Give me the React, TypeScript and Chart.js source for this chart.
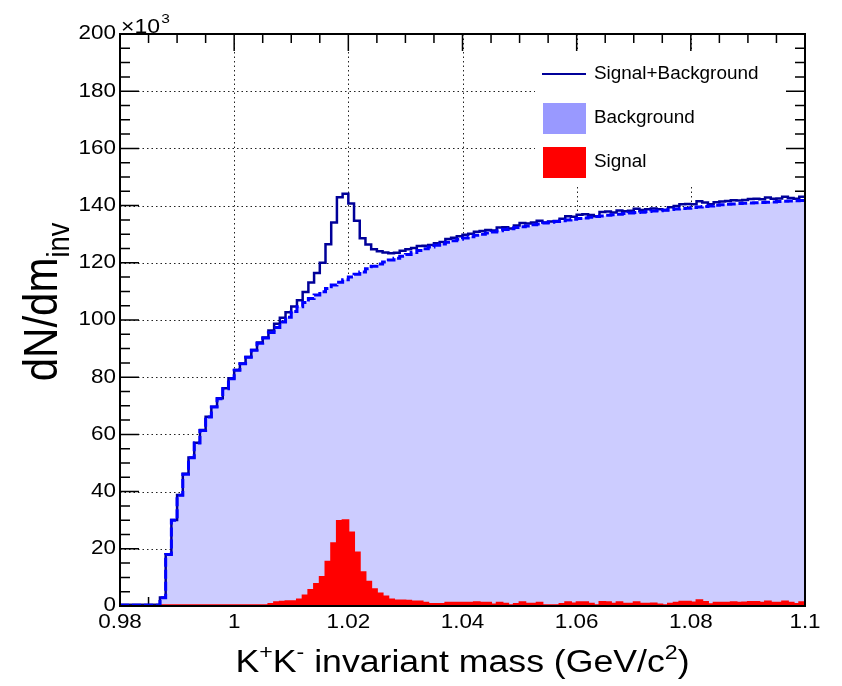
import React, { useEffect, useRef } from "react";
import { Chart, registerables } from "chart.js";

Chart.register(...registerables);

// ---- axis definition ----
const X_MIN = 0.98;
const X_MAX = 1.1;
const BIN_WIDTH = 0.001;
const Y_MIN = 0;
const Y_MAX = 200;
const X_MAJOR = 0.02;
const X_MINOR = 0.005;
const Y_MAJOR = 20;
const Y_MINOR = 5;

// ---- data (x10^3 counts per 1 MeV bin, 0.980 ... 1.100 GeV) ----
const BACKGROUND = [
  0.3, 0.3, 0.3, 0.3, 0.3, 0.3, 0.3, 2.9, 18.0, 30.0,
  38.7, 46.1, 51.8, 57.0, 61.4, 66.1, 69.6, 72.5, 76.0, 79.5,
  82.4, 84.7, 87.0, 89.4, 91.9, 93.7, 95.6, 97.4, 99.3, 101.0,
  103.0, 104.6, 106.1, 107.5, 108.7, 109.9, 111.0, 112.2, 113.2, 114.1,
  115.0, 116.0, 116.8, 117.9, 118.8, 119.6, 120.3, 121.0, 121.6, 122.3,
  122.9, 123.6, 124.3, 124.9, 125.5, 126.1, 126.6, 127.2, 127.7, 128.2,
  128.7, 129.1, 129.6, 130.0, 130.4, 130.8, 131.2, 131.6, 131.9, 132.3,
  132.6, 132.9, 133.3, 133.6, 133.9, 134.2, 134.4, 134.7, 135.0, 135.2,
  135.5, 135.7, 135.9, 136.2, 136.4, 136.6, 136.8, 137.0, 137.2, 137.4,
  137.6, 137.7, 137.9, 138.1, 138.2, 138.4, 138.6, 138.8, 139.0, 139.1,
  139.3, 139.5, 139.7, 139.9, 140.1, 140.3, 140.5, 140.6, 140.7, 140.8,
  140.9, 141.0, 141.1, 141.2, 141.3, 141.4, 141.5, 141.6, 141.7, 141.8,
];

const SIGNAL = [
  0.3, 0.3, 0.3, 0.3, 0.3, 0.3, 0.3, 0.3, 0.3, 0.3,
  0.3, 0.3, 0.3, 0.3, 0.3, 0.3, 0.3, 0.3, 0.3, 0.3,
  0.3, 0.3, 0.3, 0.3, 0.3, 0.3, 0.7, 1.3, 1.5, 1.7,
  1.7, 2.3, 3.7, 5.6, 7.7, 10.1, 15.5, 21.9, 29.7, 30.0,
  25.7, 18.7, 11.8, 8.5, 5.9, 4.4, 3.3, 2.3, 1.9, 1.9,
  1.8, 1.6, 1.6, 1.1, 0.7, 0.7, 0.7, 1.1, 1.1, 1.1,
  1.1, 1.1, 1.3, 1.1, 1.1, 0.5, 1.1, 0.8, 0.3, 0.7,
  1.3, 0.8, 0.8, 1.1, 0.3, 0.3, 0.3, 0.7, 1.3, 0.9,
  1.3, 1.3, 0.8, 0.3, 1.4, 1.3, 0.8, 1.3, 0.8, 0.8,
  1.3, 0.8, 0.8, 0.9, 0.5, 0.3, 0.8, 1.1, 1.5, 1.5,
  1.2, 2.0, 1.4, 0.6, 1.1, 1.1, 1.1, 1.3, 1.1, 1.2,
  1.4, 1.4, 1.1, 1.6, 1.1, 1.1, 1.6, 1.1, 0.7, 1.3,
];

const TOTAL = [
  0.4, 0.4, 0.4, 0.4, 0.4, 0.4, 0.4, 3.0, 18.1, 30.1,
  38.8, 46.2, 51.9, 57.1, 61.5, 66.2, 69.7, 72.6, 76.1, 79.6,
  82.5, 84.8, 87.1, 89.5, 92.1, 93.9, 96.3, 98.7, 100.8, 102.7,
  104.7, 106.9, 109.8, 113.1, 116.4, 120.0, 126.5, 134.1, 142.9, 144.1,
  140.7, 134.7, 128.6, 126.4, 124.7, 124.0, 123.6, 123.3, 123.5, 124.2,
  124.7, 125.2, 125.9, 126.0, 126.2, 126.8, 127.3, 128.3, 128.8, 129.3,
  129.8, 130.2, 130.9, 131.1, 131.5, 131.3, 132.3, 132.4, 132.0, 133.0,
  133.9, 133.7, 134.1, 134.7, 134.1, 134.4, 134.6, 135.4, 136.3, 136.1,
  136.8, 137.0, 136.7, 136.3, 137.8, 137.9, 137.6, 138.3, 138.0, 138.2,
  138.9, 138.5, 138.7, 139.0, 138.7, 138.5, 139.4, 139.9, 140.5, 140.6,
  140.5, 141.5, 141.1, 140.5, 141.2, 141.4, 141.6, 141.9, 141.8, 142.0,
  142.3, 142.4, 142.2, 142.8, 142.4, 142.5, 143.1, 142.7, 142.4, 143.1,
];

const LEGEND_LABELS = ["Signal+Background", "Background", "Signal"];

// ---- styling ----
const FONT = '"Liberation Sans", Arial, Helvetica, sans-serif';
const STRETCH = 1.15;
const C_TOTAL = "#000099";
const C_BG_LINE = "#0000ff";
const C_BG_FILL = "#ccccff";
const C_BG_LEGEND = "#9999ff";
const C_SIGNAL = "#ff0000";

// histogram bins -> points at bin low edges (+ closing point at the upper edge)
function toSteps(values: number[]) {
  const pts = values.map((v, i) => ({ x: X_MIN + i * BIN_WIDTH, y: v }));
  pts.push({ x: X_MAX, y: values[values.length - 1] });
  return pts;
}

type Seg = { t: string; sup?: boolean; sub?: boolean };

function segWidth(ctx: CanvasRenderingContext2D, segs: Seg[], size: number) {
  let w = 0;
  for (const s of segs) {
    const fs = s.sup || s.sub ? size * 0.65 : size;
    ctx.font = `${fs}px ${FONT}`;
    w += ctx.measureText(s.t).width;
  }
  return w;
}

function drawRich(
  ctx: CanvasRenderingContext2D,
  segs: Seg[],
  cx: number,
  cy: number,
  size: number,
  rotate: boolean
) {
  ctx.save();
  ctx.translate(cx, cy);
  ctx.scale(STRETCH, 1);
  if (rotate) ctx.rotate(-Math.PI / 2);
  ctx.textBaseline = "alphabetic";
  ctx.textAlign = "left";
  ctx.fillStyle = "#000";
  const w = segWidth(ctx, segs, size);
  let x = -w / 2;
  for (const s of segs) {
    const fs = s.sup || s.sub ? size * 0.65 : size;
    ctx.font = `${fs}px ${FONT}`;
    const dy = s.sup ? -size * 0.42 : s.sub ? size * 0.25 : 0;
    ctx.fillText(s.t, x, dy);
    x += ctx.measureText(s.t).width;
  }
  ctx.restore();
}

function drawText(
  ctx: CanvasRenderingContext2D,
  text: string,
  x: number,
  y: number,
  size: number,
  align: CanvasTextAlign,
  sx: number
) {
  ctx.save();
  ctx.translate(x, y);
  ctx.scale(sx, 1);
  ctx.font = `${size}px ${FONT}`;
  ctx.textAlign = align;
  ctx.textBaseline = "middle";
  ctx.fillStyle = "#000";
  ctx.fillText(text, 0, 0);
  ctx.restore();
}

const histDecor = {
  id: "histDecor",
  beforeDatasetsDraw(chart: any) {
    const { ctx, chartArea: a, scales } = chart;
    const xs = scales.x;
    const ys = scales.y;
    ctx.save();
    // dotted grid at major ticks
    ctx.strokeStyle = "#222";
    ctx.lineWidth = 1;
    ctx.setLineDash([1.5, 3]);
    for (const t of xs.ticks) {
      if (t.value <= X_MIN + 1e-9 || t.value >= X_MAX - 1e-9) continue;
      const px = Math.round(xs.getPixelForValue(t.value)) + 0.5;
      ctx.beginPath();
      ctx.moveTo(px, a.top);
      ctx.lineTo(px, a.bottom);
      ctx.stroke();
    }
    for (const t of ys.ticks) {
      if (t.value <= Y_MIN + 1e-9 || t.value >= Y_MAX - 1e-9) continue;
      const py = Math.round(ys.getPixelForValue(t.value)) + 0.5;
      ctx.beginPath();
      ctx.moveTo(a.left, py);
      ctx.lineTo(a.right, py);
      ctx.stroke();
    }
    ctx.setLineDash([]);
    // inward tick marks on all four sides
    ctx.strokeStyle = "#000";
    ctx.lineWidth = 1.5;
    const nx = Math.round((X_MAX - X_MIN) / X_MINOR);
    const perX = Math.round(X_MAJOR / X_MINOR);
    for (let k = 0; k <= nx; k++) {
      const v = X_MIN + k * X_MINOR;
      const len = k % perX === 0 ? 17 : 9;
      const px = xs.getPixelForValue(v);
      ctx.beginPath();
      ctx.moveTo(px, a.bottom);
      ctx.lineTo(px, a.bottom - len);
      ctx.moveTo(px, a.top);
      ctx.lineTo(px, a.top + len);
      ctx.stroke();
    }
    const ny = Math.round((Y_MAX - Y_MIN) / Y_MINOR);
    const perY = Math.round(Y_MAJOR / Y_MINOR);
    for (let k = 0; k <= ny; k++) {
      const v = Y_MIN + k * Y_MINOR;
      const len = k % perY === 0 ? 19 : 10;
      const py = ys.getPixelForValue(v);
      ctx.beginPath();
      ctx.moveTo(a.left, py);
      ctx.lineTo(a.left + len, py);
      ctx.moveTo(a.right, py);
      ctx.lineTo(a.right - len, py);
      ctx.stroke();
    }
    ctx.restore();
  },
  afterDatasetsDraw(chart: any) {
    const { ctx, chartArea: a } = chart;
    ctx.save();
    ctx.strokeStyle = "#000";
    ctx.lineWidth = 2;
    ctx.strokeRect(a.left, a.top, a.right - a.left, a.bottom - a.top);
    ctx.restore();
  },
  afterDraw(chart: any) {
    const { ctx, chartArea: a, scales } = chart;
    const xs = scales.x;
    const ys = scales.y;
    ctx.save();
    // legend (white box, no border)
    ctx.fillStyle = "#fff";
    ctx.fillRect(535, 51, 250, 135);
    ctx.strokeStyle = C_TOTAL;
    ctx.lineWidth = 2;
    ctx.beginPath();
    ctx.moveTo(542, 74);
    ctx.lineTo(586, 74);
    ctx.stroke();
    ctx.fillStyle = C_BG_LEGEND;
    ctx.fillRect(543, 103, 43, 31);
    ctx.fillStyle = C_SIGNAL;
    ctx.fillRect(543, 147, 43, 31);
    drawText(ctx, LEGEND_LABELS[0], 594, 74, 17.5, "left", 1.08);
    drawText(ctx, LEGEND_LABELS[1], 594, 118, 17.5, "left", 1.08);
    drawText(ctx, LEGEND_LABELS[2], 594, 162, 17.5, "left", 1.08);

    // tick labels
    for (const t of ys.ticks) {
      const py = ys.getPixelForValue(t.value);
      drawText(ctx, String(Math.round(t.value)), a.left - 4, py, 19.5, "right", STRETCH);
    }
    for (const t of xs.ticks) {
      const px = xs.getPixelForValue(t.value);
      drawText(ctx, String(parseFloat(t.value.toFixed(3))), px, a.bottom + 17, 19.5, "center", STRETCH);
    }
    // exponent label
    ctx.save();
    ctx.translate(a.left + 1, a.top - 1);
    ctx.scale(STRETCH, 1);
    ctx.fillStyle = "#000";
    ctx.textBaseline = "alphabetic";
    ctx.textAlign = "left";
    ctx.font = `20px ${FONT}`;
    ctx.fillText("\u00d710", 0, 0);
    const w = ctx.measureText("\u00d710").width;
    ctx.font = `13.5px ${FONT}`;
    ctx.fillText("3", w + 1, -10);
    ctx.restore();

    // axis titles
    drawRich(
      ctx,
      [
        { t: "K" },
        { t: "+", sup: true },
        { t: "K" },
        { t: "-", sup: true },
        { t: " invariant mass (GeV/c" },
        { t: "2", sup: true },
        { t: ")" },
      ],
      (a.left + a.right) / 2,
      672,
      31,
      false
    );
    drawRich(ctx, [{ t: "dN/dm" }, { t: "inv", sub: true }], 57, 302, 42, true);
    ctx.restore();
  },
};

export default function App() {
  const ref = useRef<HTMLCanvasElement>(null);
  useEffect(() => {
    document.body.style.margin = "0";
    const canvas = ref.current;
    if (!canvas) return;
    const chart = new Chart(canvas, {
      type: "line",
      data: {
        datasets: [
          {
            label: "Background (fit)",
            data: toSteps(BACKGROUND),
            stepped: "before",
            borderColor: C_BG_LINE,
            borderWidth: 3,
            borderDash: [9, 3],
            fill: false,
            pointRadius: 0,
            order: 0,
          },
          {
            label: LEGEND_LABELS[0],
            data: toSteps(TOTAL),
            stepped: "before",
            borderColor: C_TOTAL,
            borderWidth: 2.5,
            fill: false,
            pointRadius: 0,
            order: 1,
          },
          {
            label: LEGEND_LABELS[2],
            data: toSteps(SIGNAL),
            stepped: "before",
            borderColor: C_SIGNAL,
            borderWidth: 2,
            backgroundColor: C_SIGNAL,
            fill: "origin",
            pointRadius: 0,
            order: 2,
          },
          {
            label: LEGEND_LABELS[1],
            data: toSteps(BACKGROUND),
            stepped: "before",
            borderWidth: 0,
            borderColor: "rgba(0,0,0,0)",
            backgroundColor: C_BG_FILL,
            fill: "origin",
            pointRadius: 0,
            order: 3,
          },
        ],
      },
      options: {
        animation: false,
        responsive: false,
        events: [],
        layout: { padding: { left: 120, right: 37, top: 34, bottom: 80 } },
        plugins: {
          legend: { display: false },
          tooltip: { enabled: false },
        },
        scales: {
          x: {
            type: "linear",
            min: X_MIN,
            max: X_MAX,
            ticks: { stepSize: X_MAJOR, display: false },
            grid: { display: false },
            border: { display: false },
            afterFit: (s: any) => {
              s.height = 0;
            },
          },
          y: {
            type: "linear",
            min: Y_MIN,
            max: Y_MAX,
            ticks: { stepSize: Y_MAJOR, display: false },
            grid: { display: false },
            border: { display: false },
            afterFit: (s: any) => {
              s.width = 0;
            },
          },
        },
      },
      plugins: [histDecor],
    });
    return () => chart.destroy();
  }, []);
  return (
    <div style={{ width: 842, height: 686, background: "#fff" }}>
      <canvas ref={ref} width={842} height={686} style={{ display: "block" }} />
    </div>
  );
}
